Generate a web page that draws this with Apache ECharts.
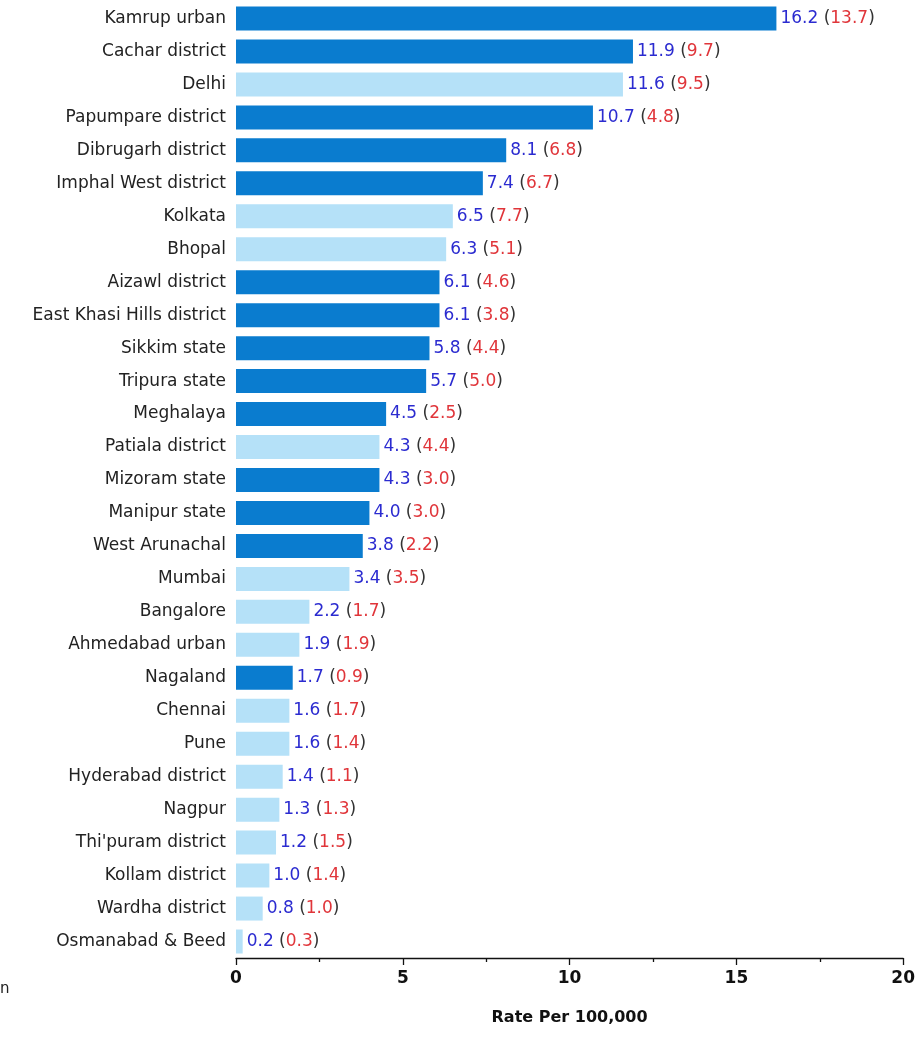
<!DOCTYPE html>
<html>
<head>
<meta charset="utf-8">
<script src="https://cdn.jsdelivr.net/npm/echarts@6/dist/echarts.min.js"></script>
<style>
  html, body { margin: 0; padding: 0; background: #fff; }
  #chart { width: 918px; height: 1062px; }
</style>
</head>
<body>
<div id="chart"></div>
<script>
// 登记地区
var regions = ['Kamrup urban', 'Cachar district', 'Delhi', 'Papumpare district', 'Dibrugarh district',
  'Imphal West district', 'Kolkata', 'Bhopal', 'Aizawl district', 'East Khasi Hills district',
  'Sikkim state', 'Tripura state', 'Meghalaya', 'Patiala district', 'Mizoram state',
  'Manipur state', 'West Arunachal', 'Mumbai', 'Bangalore', 'Ahmedabad urban',
  'Nagaland', 'Chennai', 'Pune', 'Hyderabad district', 'Nagpur',
  "Thi'puram district", 'Kollam district', 'Wardha district', 'Osmanabad & Beed'];
// 柱长值
var rates = [16.2, 11.9, 11.6, 10.7, 8.1, 7.4, 6.5, 6.3, 6.1, 6.1,
  5.8, 5.7, 4.5, 4.3, 4.3, 4.0, 3.8, 3.4, 2.2, 1.9,
  1.7, 1.6, 1.6, 1.4, 1.3, 1.2, 1.0, 0.8, 0.2];
// 括号内的值
var bracketRates = [13.7, 9.7, 9.5, 4.8, 6.8, 6.7, 7.7, 5.1, 4.6, 3.8,
  4.4, 5.0, 2.5, 4.4, 3.0, 3.0, 2.2, 3.5, 1.7, 1.9,
  0.9, 1.7, 1.4, 1.1, 1.3, 1.5, 1.4, 1.0, 0.3];
// 1 = 东北地区(深色), 0 = 其他(浅色)
var northEast = [1, 1, 0, 1, 1, 1, 0, 0, 1, 1,
  1, 1, 1, 0, 1, 1, 1, 0, 0, 0,
  1, 0, 0, 0, 0, 0, 0, 0, 0];
var xTicks = [0, 5, 10, 15, 20];

var darkColor = '#0a7ccf', lightColor = '#b5e1f8';
var font = '"DejaVu Sans", "Liberation Sans", sans-serif';

var chart = echarts.init(document.getElementById('chart'));
chart.setOption({
  animation: false,
  grid: { left: 236, right: 13, top: 2, bottom: 104, containLabel: false },
  xAxis: {
    type: 'value',
    min: xTicks[0], max: xTicks[xTicks.length - 1], interval: 5,
    name: 'Rate Per 100,000', nameLocation: 'middle', nameGap: 52,
    nameTextStyle: { color: '#111', fontSize: 16, fontWeight: 'bold', fontFamily: font },
    axisLine: { show: true, lineStyle: { color: '#111', width: 1.3 } },
    axisTick: { show: true, inside: false, length: 7, lineStyle: { color: '#111', width: 1.3 } },
    minorTick: { show: true, splitNumber: 2, length: 4, lineStyle: { color: '#111', width: 1.3 } },
    splitLine: { show: false },
    axisLabel: { color: '#111', fontSize: 17, fontWeight: 'bold', fontFamily: font, margin: 12 }
  },
  yAxis: {
    type: 'category', inverse: true, data: regions,
    axisLine: { show: false }, axisTick: { show: false },
    axisLabel: { color: '#222', fontSize: 17, fontFamily: font, margin: 10 }
  },
  series: [{
    type: 'bar',
    barWidth: 24,
    data: rates.map(function (v, i) {
      return { value: v, itemStyle: { color: northEast[i] ? darkColor : lightColor } };
    }),
    label: {
      show: true, position: 'right', distance: 4,
      fontFamily: font, fontSize: 17,
      formatter: function (p) {
        return '{a|' + rates[p.dataIndex].toFixed(1) + '} {p|(}{b|' + bracketRates[p.dataIndex].toFixed(1) + '}{p|)}';
      },
      rich: {
        a: { color: '#2b2bd0', fontSize: 17, fontFamily: font },
        b: { color: '#e0353a', fontSize: 17, fontFamily: font },
        p: { color: '#333', fontSize: 17, fontFamily: font }
      }
    }
  }],
  graphic: [{
    type: 'text', left: 0, top: 982,
    style: { text: 'n', fill: '#222', fontSize: 15, fontFamily: font }
  }]
});
</script>
</body>
</html>
